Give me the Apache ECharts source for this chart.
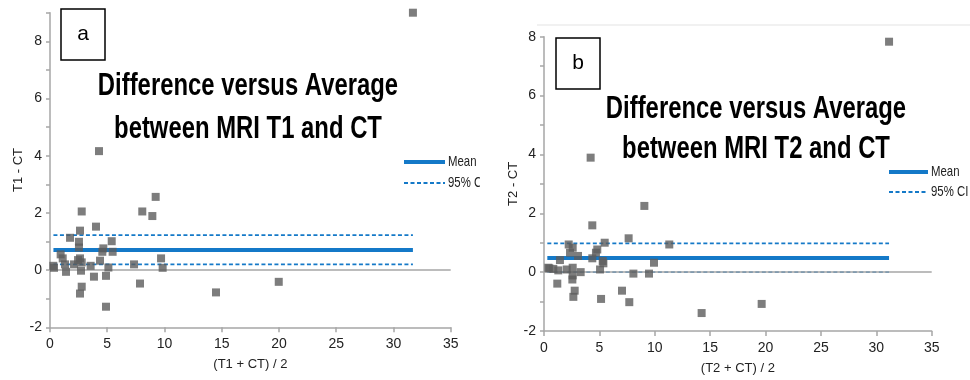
<!DOCTYPE html>
<html><head><meta charset="utf-8">
<script src="https://cdn.jsdelivr.net/npm/echarts@6/dist/echarts.min.js"></script>
<style>html,body{margin:0;padding:0;background:#fff}#c{width:970px;height:380px}</style>
</head><body><div id="c"></div>
<script>
// Panel a: MRI T1 vs CT
const avgT1 = [31.7, 4.28, 9.23, 8.06, 8.94, 2.77, 4.02, 2.62, 1.75, 2.53, 2.53, 5.39, 4.66, 4.57, 5.47, 0.93, 1.11, 4.37, 2.62, 0.29, 0.35, 1.31, 2.1, 1.4, 2.77, 2.71, 3.55, 3.84, 2.77, 2.62, 4.89, 5.1, 4.89, 7.34, 7.86, 9.7, 9.84, 14.5, 19.98, 2.45];
const diffT1 = [9.0, 4.16, 2.56, 2.05, 1.89, 2.05, 1.52, 1.38, 1.13, 0.99, 0.79, 1.01, 0.76, 0.64, 0.64, 0.55, 0.41, 0.33, 0.41, 0.15, 0.08, 0.2, 0.2, -0.06, 0.27, -0.02, 0.15, -0.23, -0.58, -0.82, -0.2, 0.09, -1.28, 0.2, -0.47, 0.41, 0.08, -0.78, -0.41, 0.35];
const meanT1 = 0.70;
const ciT1 = [0.20, 1.22];
const lineSpanT1 = [0.3, 31.7];

// Panel b: MRI T2 vs CT
const avgT2 = [31.15, 4.21, 9.06, 4.36, 7.64, 11.31, 5.48, 2.23, 2.59, 2.35, 3.07, 4.81, 4.69, 4.36, 1.44, 0.39, 0.48, 0.84, 1.29, 2.05, 2.59, 3.31, 2.59, 2.56, 1.2, 2.77, 2.65, 5.15, 5.06, 5.3, 5.36, 7.04, 7.7, 8.07, 9.48, 9.93, 14.23, 19.65];
const diffT2 = [7.83, 3.89, 2.25, 1.59, 1.15, 0.94, 1.0, 0.94, 0.83, 0.66, 0.55, 0.77, 0.66, 0.47, 0.41, 0.15, 0.13, 0.11, 0.06, 0.09, 0.15, 0.0, -0.11, -0.25, -0.39, -0.63, -0.84, -0.91, 0.09, 0.38, 0.3, -0.63, -1.02, -0.05, -0.05, 0.32, -1.39, -1.08];
const meanT2 = 0.48;
const ciT2 = [0.0, 0.98];
const lineSpanT2 = [0.3, 31.15];

// Tick labels
const xTickLabels = [0, 5, 10, 15, 20, 25, 30, 35];
const yTickLabelsA = [-2, 0, 2, 4, 6, 8];
const yTickLabelsB = [-2, 0, 2, 4, 6, 8];

const FONT = '"Liberation Sans", sans-serif';
const BLUE = '#1479c8';
const GRAY = '#a6a6a6';
const PT = '#5c5c5c';

function zip(a, b) { return a.map((v, i) => [v, b[i]]); }
function hline(span, y) { return [[span[0], y], [span[1], y]]; }

function xAxis(gi, name) {
  return {
    type: 'value', gridIndex: gi, min: 0, max: 35, interval: 5,
    name: name, nameLocation: 'middle', nameGap: 31,
    nameTextStyle: { fontFamily: FONT, fontSize: 13, color: '#222' },
    axisLine: { show: true, onZero: false, lineStyle: { color: GRAY, width: 1.5 } },
    axisTick: { show: true, length: 5, lineStyle: { color: GRAY, width: 1.5 } },
    axisLabel: { fontFamily: FONT, fontSize: 14, color: '#222', margin: 10,
      formatter: v => xTickLabels.includes(v) ? String(v) : '' },
    splitLine: { show: false }
  };
}
function yAxis(gi, max, labels, name, gap) {
  return {
    type: 'value', gridIndex: gi, min: -2, max: max, interval: 1,
    name: name, nameLocation: 'middle', nameGap: gap, nameRotate: 90,
    nameTextStyle: { fontFamily: FONT, fontSize: 13, color: '#222' },
    axisLine: { show: true, onZero: false, lineStyle: { color: GRAY, width: 1.5 } },
    axisTick: { show: true, length: 4, lineStyle: { color: GRAY, width: 1.5 } },
    axisLabel: { fontFamily: FONT, fontSize: 14, color: '#222', margin: 8,
      formatter: v => labels.includes(v) ? String(v) : '' },
    splitLine: { show: false }
  };
}
function scatter(gi, xs, ys) {
  return {
    type: 'scatter', xAxisIndex: gi, yAxisIndex: gi, data: zip(xs, ys),
    symbol: 'rect', symbolSize: 8, itemStyle: { color: PT }, z: 5,
    markLine: { silent: true, symbol: 'none', label: { show: false },
      lineStyle: { color: GRAY, width: 1.5, type: 'solid' }, data: [{ yAxis: 0 }] }
  };
}
function line(gi, data, solid) {
  return {
    type: 'line', xAxisIndex: gi, yAxisIndex: gi, data: data, symbol: 'none', z: 4,
    lineStyle: solid ? { color: BLUE, width: 4 } : { color: BLUE, width: 1.8, type: [4, 2.5] }
  };
}

function legend(x1, x2, y1, y2) {
  return [
    { type: 'line', shape: { x1: x1, y1: y1, x2: x2, y2: y1 }, style: { stroke: BLUE, lineWidth: 4 } },
    { type: 'text', x: x2 + 3, y: y1, scaleX: 0.76, style: { text: 'Mean', font: '15px ' + FONT, fill: '#222', verticalAlign: 'middle' } },
    { type: 'line', shape: { x1: x1, y1: y2, x2: x2, y2: y2 }, style: { stroke: BLUE, lineWidth: 1.8, lineDash: [4, 2.5] } },
    { type: 'text', x: x2 + 3, y: y2, scaleX: 0.76, style: { text: '95% CI', font: '15px ' + FONT, fill: '#222', verticalAlign: 'middle' } }
  ];
}
function title(cx, y1, y2, l1, l2) {
  const st = t => ({ text: t, font: 'bold 31px ' + FONT, fill: '#000', align: 'center', verticalAlign: 'middle' });
  return [
    { type: 'text', x: cx, y: y1, scaleX: 0.77, style: st(l1) },
    { type: 'text', x: cx, y: y2, scaleX: 0.77, style: st(l2) }
  ];
}
function box(x, y, w, h, t) {
  return [
    { type: 'rect', shape: { x: x, y: y, width: w, height: h }, style: { fill: '#fff', stroke: '#000', lineWidth: 1.5 } },
    { type: 'text', x: x + w / 2, y: y + h / 2, style: { text: t, font: '21px "Liberation Sans", sans-serif', fill: '#000', align: 'center', verticalAlign: 'middle' } }
  ];
}

const chart = echarts.init(document.getElementById('c'), null, { renderer: 'canvas' });
chart.setOption({
  animation: false,
  backgroundColor: '#fff',
  grid: [
    { left: 50, top: 12.7, width: 400.7, height: 314.6 },
    { left: 544, top: 36.7, width: 387.7, height: 294.3 }
  ],
  xAxis: [xAxis(0, '(T1 + CT) / 2'), xAxis(1, '(T2 + CT) / 2')],
  yAxis: [yAxis(0, 9, yTickLabelsA, 'T1 - CT', 25), yAxis(1, 8, yTickLabelsB, 'T2 - CT', 23)],
  series: [
    scatter(0, avgT1, diffT1),
    line(0, hline(lineSpanT1, meanT1), true),
    line(0, hline(lineSpanT1, ciT1[0]), false),
    line(0, hline(lineSpanT1, ciT1[1]), false),
    scatter(1, avgT2, diffT2),
    line(1, hline(lineSpanT2, meanT2), true),
    line(1, hline(lineSpanT2, ciT2[0]), false),
    line(1, hline(lineSpanT2, ciT2[1]), false)
  ],
  graphic: [].concat(
    box(61, 9, 44, 51, 'a'),
    title(248, 86, 129, 'Difference versus Average', 'between MRI T1 and CT'),
    legend(404, 445, 162, 183),
    [{ type: 'rect', shape: { x: 480, y: 140, width: 25, height: 60 }, style: { fill: '#fff' }, z: 100 }],
    [{ type: 'line', shape: { x1: 537, y1: 25, x2: 970, y2: 25 }, style: { stroke: '#ececec', lineWidth: 1.5 } }],
    box(556, 38, 44, 51, 'b'),
    title(756, 109, 149, 'Difference versus Average', 'between MRI T2 and CT'),
    legend(889, 928, 172, 192)
  )
});
</script>
</body></html>
